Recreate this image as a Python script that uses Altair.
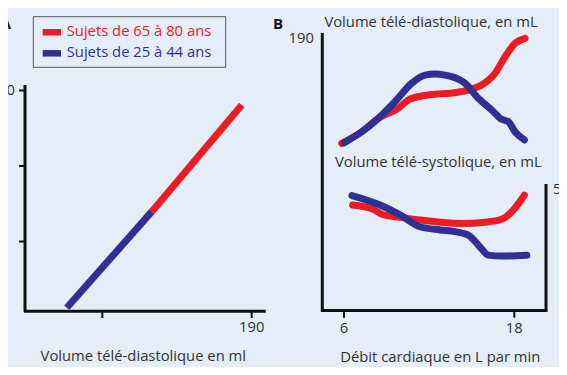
import altair as alt
import pandas as pd

# ---------------- data ----------------
series = ["Sujets de 65 à 80 ans", "Sujets de 25 à 44 ans"]
colors = ["#ed1c24", "#2e3192"]

# Panel A : straight relation (x = volume télé-diastolique, y = output)
a_x_blue = [78.6, 129.8]
a_y_blue = [24.9, 75.8]
a_x_red = [129.8, 184.0]
a_y_red = [75.8, 132.3]
a_yticks = [140, 100, 60]
a_ylabels = ["140", "", ""]
a_xticks = [100, 190]
a_xlabels = ["", "190"]

# Panel B : x = débit cardiaque (L/min)
b_xticks = [6, 18]
b_xlabels = ["6", "18"]

# Volume télé-diastolique (mL)
edv_old_x = [5.84, 7.25, 8.42, 9.83, 10.53, 11.48, 12.41, 13.82, 14.76, 15.70, 16.64, 17.35, 18.05, 18.76]
edv_old_y = [116.3, 124.3, 133.6, 140.6, 146.3, 149.1, 150.3, 151.4, 153.2, 156.7, 164.8, 176.3, 185.6, 189.1]
edv_young_x = [6.02, 7.25, 8.42, 9.59, 10.77, 11.71, 12.41, 13.12, 13.59, 14.53, 15.46, 16.41, 17.11, 17.58, 18.05, 18.71]
edv_young_y = [116.7, 124.3, 133.6, 145.1, 157.9, 163.6, 164.3, 163.6, 162.5, 157.9, 147.5, 139.4, 132.9, 131.3, 124.3, 118.6]

# Volume télé-systolique (mL)
esv_old_x = [6.61, 8.06, 8.66, 9.95, 11.36, 12.77, 14.29, 15.94, 17.11, 17.82, 18.40, 18.71]
esv_old_y = [43.8, 42.0, 40.0, 38.7, 37.6, 36.7, 36.2, 36.7, 37.9, 41.0, 45.2, 47.9]
esv_young_x = [6.56, 8.54, 9.95, 11.36, 12.77, 13.82, 14.76, 15.46, 16.17, 17.11, 18.88]
esv_young_y = [47.7, 43.8, 39.7, 34.8, 33.5, 32.8, 31.4, 27.3, 23.1, 22.7, 23.0]

edv_label = ["190"]
edv_label_v = [190]
esv_label = ["50"]
esv_label_v = [50]

# ---------------- style ----------------
BG = "#e5edf8"
FONT = "Open Sans"
TXT = "#333333"
LW = 7
FS = 14.8

xA = alt.Scale(domain=[100, 190], range=[94.3, 243.7], zero=False, nice=False)
yA = alt.Scale(domain=[60, 140], range=[233.5, 82.5], zero=False, nice=False)
xB = alt.Scale(domain=[6, 18], range=[336, 506.3], zero=False, nice=False)
yBtop = alt.Scale(domain=[0, 190], range=[303, 29], zero=False, nice=False)
yBbot = alt.Scale(domain=[0, 50], range=[303, 182], zero=False, nice=False)
cscale = alt.Scale(domain=series, range=colors)


def one():
    return pd.DataFrame({"d": [0]})


def rule(x, x2, y, y2, w=3):
    return alt.Chart(one()).mark_rule(color="#111111", strokeWidth=w).encode(
        x=alt.value(x), x2=alt.value(x2), y=alt.value(y), y2=alt.value(y2))


def text(s, x, y, size=FS, align="center", color=TXT, weight="normal"):
    return alt.Chart(pd.DataFrame({"t": [s]})).mark_text(
        font=FONT, fontSize=size, align=align, baseline="middle",
        color=color, fontWeight=weight).encode(
        x=alt.value(x), y=alt.value(y), text="t:N")


def line(xs, ys, name, xs_scale, ys_scale, cap):
    df = pd.DataFrame({"x": xs, "y": ys, "serie": name})
    return alt.Chart(df).mark_line(strokeWidth=LW, strokeCap=cap, interpolate="monotone").encode(
        x=alt.X("x:Q", scale=xs_scale, axis=None),
        y=alt.Y("y:Q", scale=ys_scale, axis=None),
        color=alt.Color("serie:N", scale=cscale, legend=None))


layers = []

# ---- Panel A ----
layers.append(rule(17, 17, 77, 303.7))
layers.append(rule(16, 257.7, 303.2, 303.2))
ya = pd.DataFrame({"v": a_yticks, "lab": a_ylabels})
layers.append(alt.Chart(ya).mark_rule(color="#111111", strokeWidth=2).encode(
    y=alt.Y("v:Q", scale=yA, axis=None), x=alt.value(11), x2=alt.value(17)))
layers.append(alt.Chart(ya[ya.lab != ""]).mark_text(
    font=FONT, fontSize=FS, align="right", baseline="middle", color=TXT).encode(
    y=alt.Y("v:Q", scale=yA, axis=None), x=alt.value(7), text="lab:N"))
xa = pd.DataFrame({"v": a_xticks, "lab": a_xlabels})
layers.append(alt.Chart(xa).mark_rule(color="#111111", strokeWidth=2).encode(
    x=alt.X("v:Q", scale=xA, axis=None), y=alt.value(303), y2=alt.value(310)))
layers.append(alt.Chart(xa[xa.lab != ""]).mark_text(
    font=FONT, fontSize=FS, align="center", baseline="middle", color=TXT).encode(
    x=alt.X("v:Q", scale=xA, axis=None), y=alt.value(320), text="lab:N"))
layers.append(line(a_x_blue, a_y_blue, series[1], xA, yA, "butt"))
layers.append(line(a_x_red, a_y_red, series[0], xA, yA, "butt"))
layers.append(text("Volume télé-diastolique en ml", 135.3, 348.7))
layers.append(text("A", 3, 16, size=15, align="right", color="#111111", weight="bold"))

# ---- Legend ----
layers.append(alt.Chart(one()).mark_rect(fill=BG, stroke="#555555", strokeWidth=1).encode(
    x=alt.value(25.3), x2=alt.value(217.7), y=alt.value(8.7), y2=alt.value(59.3)))
leg_y = [24.3, 45.3]
for i, s in enumerate(series):
    layers.append(alt.Chart(one()).mark_rule(color=colors[i], strokeWidth=6.5).encode(
        x=alt.value(34.7), x2=alt.value(53), y=alt.value(leg_y[i]), y2=alt.value(leg_y[i])))
    layers.append(text(s, 58.7, leg_y[i], align="left", color=colors[i]))

# ---- Panel B ----
layers.append(rule(314.3, 314.3, 25, 303.7))
layers.append(rule(313, 539.3, 302.5, 302.5))
layers.append(rule(538, 538, 176, 303.7))
xb = pd.DataFrame({"v": b_xticks, "lab": b_xlabels})
layers.append(alt.Chart(xb).mark_rule(color="#111111", strokeWidth=2).encode(
    x=alt.X("v:Q", scale=xB, axis=None), y=alt.value(302), y2=alt.value(309.7)))
layers.append(alt.Chart(xb).mark_text(
    font=FONT, fontSize=FS, align="center", baseline="middle", color=TXT).encode(
    x=alt.X("v:Q", scale=xB, axis=None), y=alt.value(321.3), text="lab:N"))
layers.append(alt.Chart(pd.DataFrame({"v": edv_label_v, "lab": edv_label})).mark_text(
    font=FONT, fontSize=FS, align="right", baseline="middle", color=TXT, dy=2).encode(
    y=alt.Y("v:Q", scale=yBtop, axis=None), x=alt.value(306), text="lab:N"))
layers.append(alt.Chart(pd.DataFrame({"v": esv_label_v, "lab": esv_label})).mark_text(
    font=FONT, fontSize=FS, align="left", baseline="middle", color=TXT).encode(
    y=alt.Y("v:Q", scale=yBbot, axis=None), x=alt.value(545), text="lab:N"))

layers.append(line(edv_old_x, edv_old_y, series[0], xB, yBtop, "round"))
layers.append(line(edv_young_x, edv_young_y, series[1], xB, yBtop, "round"))
layers.append(line(esv_old_x, esv_old_y, series[0], xB, yBbot, "round"))
layers.append(line(esv_young_x, esv_young_y, series[1], xB, yBbot, "round"))

layers.append(text("Volume télé-diastolique, en mL", 423, 15.3))
layers.append(text("Volume télé-systolique, en mL", 430.3, 155.3))
layers.append(text("Débit cardiaque en L par min", 432.3, 349.7))
layers.append(text("B", 265, 16, size=15, align="left", color="#111111", weight="bold"))

chart = alt.layer(*layers).resolve_scale(
    x="independent", y="independent"
).properties(
    width=551, height=359, padding=0,
    autosize=alt.AutoSizeParams(type="none"),
    background=BG,
).configure_view(stroke=None)

chart.save("out.html", embed_options={"renderer": "svg", "actions": False})
